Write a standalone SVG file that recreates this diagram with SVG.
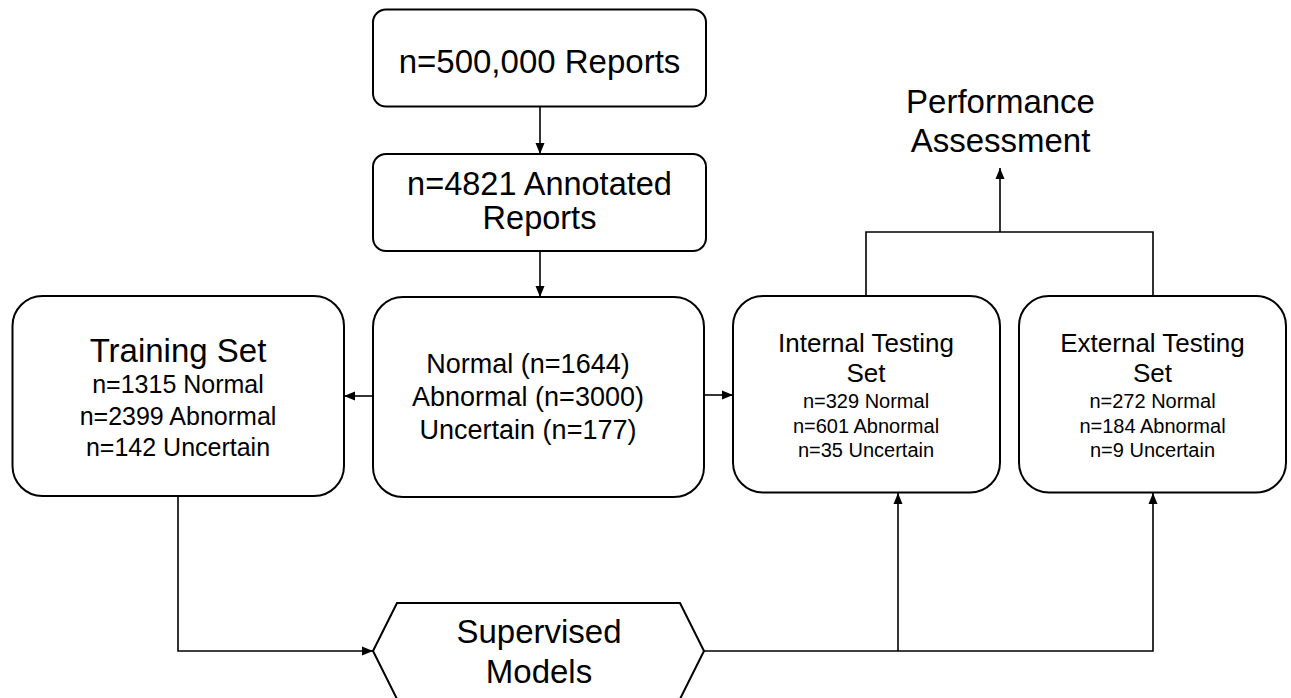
<svg xmlns="http://www.w3.org/2000/svg" width="1291" height="698" viewBox="0 0 1291 698">
<style>
.box{fill:#fff;stroke:#000;stroke-width:2}
.c{fill:none;stroke:#000;stroke-width:1.6}
text{font-family:"Liberation Sans",Arial,Helvetica,sans-serif;fill:#000;text-anchor:middle}
</style>
<defs>
<marker id="ah" markerUnits="userSpaceOnUse" markerWidth="12" markerHeight="10" refX="11" refY="5" orient="auto">
<path d="M0,0.5 L11,5 L0,9.5 z" fill="#000"/>
</marker>
</defs>
<rect width="1291" height="698" fill="#fff"/>
<g id="connectors">
<path class="c" d="M540,107 V154" marker-end="url(#ah)"/>
<path class="c" d="M540,251 V297" marker-end="url(#ah)"/>
<path class="c" d="M373,396 H344" marker-end="url(#ah)"/>
<path class="c" d="M704,395 H733" marker-end="url(#ah)"/>
<path class="c" d="M178,496 V651 H373" marker-end="url(#ah)"/>
<path class="c" d="M704,651 H1153 V493" marker-end="url(#ah)"/>
<path class="c" d="M898,651 V493" marker-end="url(#ah)"/>
<path class="c" d="M866,296 V232 H1153 V296"/>
<path class="c" d="M1000,232 V168" marker-end="url(#ah)"/>
</g>
<g id="reports">
<rect class="box" x="373" y="9.5" width="333" height="97" rx="13"/>
<text x="539.5" y="73" font-size="33">n=500,000 Reports</text>
</g>
<g id="annotated">
<rect class="box" x="373" y="154" width="333" height="97" rx="13"/>
<text x="539.5" y="195" font-size="32.5">n=4821 Annotated</text>
<text x="539.5" y="229" font-size="32.5">Reports</text>
</g>
<g id="split">
<rect class="box" x="373" y="297" width="331" height="200" rx="30"/>
<text x="528" y="373" font-size="27">Normal (n=1644)</text>
<text x="528" y="406" font-size="27">Abnormal (n=3000)</text>
<text x="528" y="439" font-size="27">Uncertain (n=177)</text>
</g>
<g id="training">
<rect class="box" x="12.5" y="296" width="331.5" height="200" rx="30"/>
<text x="178" y="362" font-size="33">Training Set</text>
<text x="178" y="393" font-size="25">n=1315 Normal</text>
<text x="178" y="425" font-size="25">n=2399 Abnormal</text>
<text x="178" y="456" font-size="25">n=142 Uncertain</text>
</g>
<g id="internal">
<rect class="box" x="733" y="296" width="267" height="196.5" rx="30"/>
<text x="866" y="352" font-size="26">Internal Testing</text>
<text x="866" y="382" font-size="26">Set</text>
<text x="866" y="408" font-size="20">n=329 Normal</text>
<text x="866" y="433" font-size="20">n=601 Abnormal</text>
<text x="866" y="457" font-size="20">n=35 Uncertain</text>
</g>
<g id="external">
<rect class="box" x="1019" y="296" width="267" height="196.5" rx="30"/>
<text x="1152.5" y="352" font-size="26">External Testing</text>
<text x="1152.5" y="382" font-size="26">Set</text>
<text x="1152.5" y="408" font-size="20">n=272 Normal</text>
<text x="1152.5" y="433" font-size="20">n=184 Abnormal</text>
<text x="1152.5" y="457" font-size="20">n=9 Uncertain</text>
</g>
<g id="performance">
<text x="1000.5" y="113" font-size="33">Performance</text>
<text x="1000.5" y="152" font-size="33">Assessment</text>
</g>
<g id="models">
<polygon class="box" points="373,651 397,603 680,603 704,651 680,699 397,699"/>
<text x="539" y="643" font-size="33">Supervised</text>
<text x="539" y="683" font-size="33">Models</text>
</g>
</svg>
